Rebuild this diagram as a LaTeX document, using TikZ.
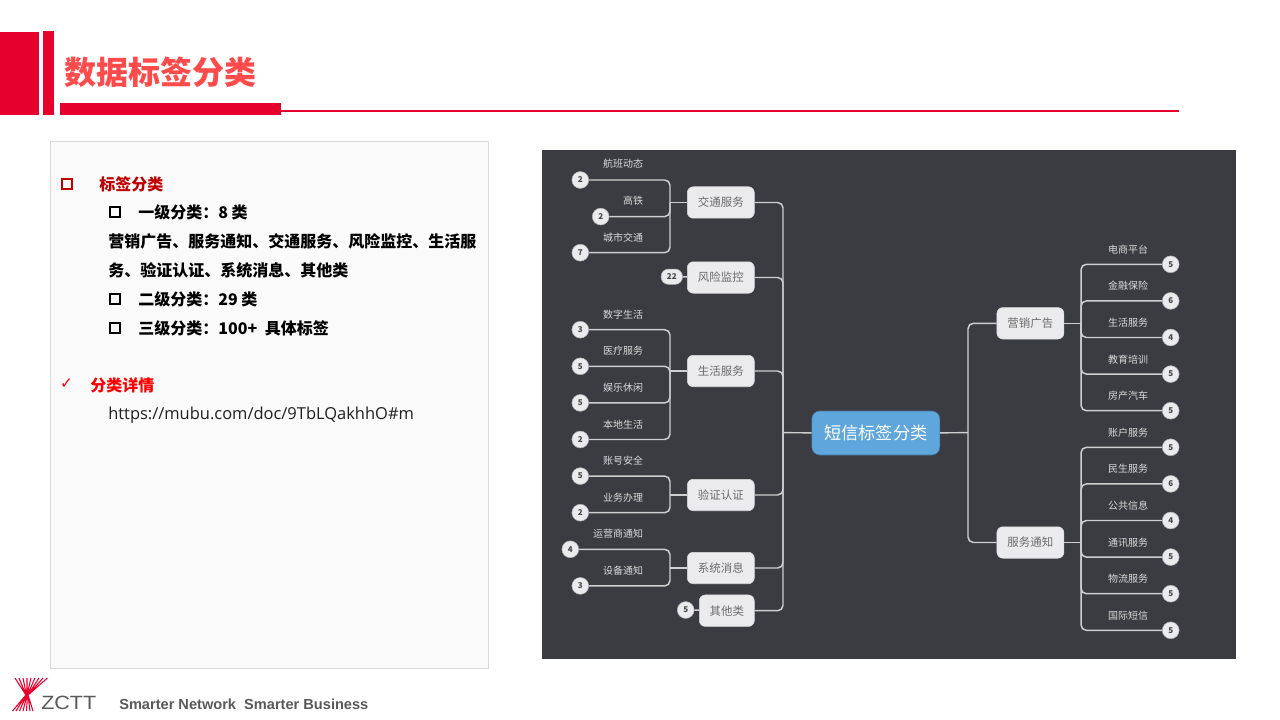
\documentclass[tikz,border=0pt]{standalone}
\usepackage{fontspec}
\setmainfont{Noto Sans CJK SC}
\newfontfamily\urlfont{Open Sans}
\newfontfamily\footfont{Liberation Sans}
\newfontfamily\checkfont{DejaVu Sans}
\usetikzlibrary{positioning, calc}
\usepackage{xcolor}
\definecolor{zcttred}{HTML}{E6002D}
\definecolor{titlered}{HTML}{FF4B4B}
\definecolor{panelgray}{HTML}{3B3C41}
\definecolor{linegray}{HTML}{CFCFD1}
\definecolor{topicgray}{HTML}{EBEBED}
\definecolor{rootblue}{HTML}{5FA6DC}

\begin{document}
\begin{tikzpicture}[
    x=0.75pt, y=-0.75pt,
    node distance=15.45pt and 6pt,
    block/.style={fill=zcttred, draw=none},
    heading/.style={anchor=west, inner sep=0pt, font=\fontsize{12pt}{14pt}\selectfont\bfseries},
    body/.style={heading, text=black},
    tick/.style={draw=black, line width=1.5pt, minimum size=7.5pt, inner sep=0pt},
    root/.style={rectangle, rounded corners=6pt, fill=rootblue, draw=rootblue!70!black, line width=0.4pt, text=white, minimum width=96pt, minimum height=33pt, inner sep=0pt, font=\fontsize{12.9pt}{15pt}\selectfont},
    topic/.style={rectangle, rounded corners=4.5pt, fill=topicgray, draw=white!85!black, line width=0.4pt, text=black!58, minimum width=50.25pt, minimum height=23.6pt, inner sep=0pt, font=\fontsize{8.6pt}{10pt}\selectfont},
    leaf/.style={inner sep=0pt, outer sep=0pt, text height=9pt, text depth=3pt, text=white!85!black, font=\fontsize{7.5pt}{9pt}\selectfont},
    leafl/.style={leaf, text width=37.5pt, align=right},
    leafr/.style={leaf, text width=30pt, align=left},
    count/.style={circle, fill=topicgray, draw=white!70!black, line width=0.4pt, text=black!72, minimum size=12.6pt, inner sep=0pt, font=\fontsize{6pt}{7pt}\selectfont\bfseries},
    link/.style={draw=linegray, line width=1.1pt, rounded corners=4pt},
    fan/.style={draw=zcttred, line width=0.8pt}
  ]
    \useasboundingbox (0,0) rectangle (1280,720);
    % header
    \fill[block] (0,32) rectangle (39,115);
    \fill[block] (43,31) rectangle (54,115);
    \fill[block] (60,103) rectangle (281,115);
    \fill[block] (281,110) rectangle (1179,112.5);
    \node[anchor=west, inner sep=0pt, text=titlered, font=\fontsize{24pt}{28pt}\selectfont\bfseries] (title) at (64,72) {数据标签分类};

    % left panel
    \draw[draw=white!85!black, fill=white!98!black, line width=0.6pt] (50,141) rectangle (488.5,668);
    \node[tick, draw=red!75!black] (b0) at (67,184) {};
    \node[heading, text=red!75!black] (t0) at (99,184) {标签分类};
    \node[tick] (b1) at (115,212) {};
    \node[body] (t1) at (138,212) {一级分类：8 类};
    \node[body] (t2) at (108,241) {营销广告、服务通知、交通服务、风险监控、生活服};
    \node[body] (t3) at (108,270) {务、验证认证、系统消息、其他类};
    \node[tick] (b2) at (115,299) {};
    \node[body] (t4) at (138,299) {二级分类：29 类};
    \node[tick] (b3) at (115,328) {};
    \node[body] (t5) at (138,328) {三级分类：100+\hspace{3pt} 具体标签};
    \node[anchor=center, inner sep=0pt, text=red, font=\checkfont\fontsize{11.5pt}{13pt}\selectfont] (b4) at (66.5,384) {✓};
    \node[heading, text=red] (t6) at (90,385) {分类详情};
    \node[body, font=\urlfont\fontsize{12.35pt}{14pt}\selectfont, text=black!88] (t7) at (108,415.5) {https://mubu.com/doc/9TbLQakhhO\#m};

    % mind map
    \fill[panelgray] (542,150) rectangle (1236,659);
    \node[root] (dxbq) at (875.8,433) {短信标签分类};
    \coordinate (lj) at (783,432.7);
    \coordinate (rj) at (968,432.7);

    \node[topic] (jtfw) at (720.8,202.5) {交通服务};
    \node[topic] (fxjk) at (720.8,277.5) {风险监控};
    \node[topic] (shfw) at (720.8,371) {生活服务};
    \node[topic] (yzrz) at (720.8,495) {验证认证};
    \node[topic] (xtxx) at (720.8,568) {系统消息};
    \node[topic, minimum width=41.25pt] (qtl) at (726.8,610.7) {其他类};
    \node[topic] (yxgg) at (1030.4,323.3) {营销广告};
    \node[topic] (fwtz) at (1030.4,542.5) {服务通知};

    \coordinate (jjt) at (670,202.5);
    \coordinate (jsh) at (670,371);
    \coordinate (jyz) at (670,495);
    \coordinate (jxt) at (670,568);
    \coordinate (jyx) at (1081,323.3);
    \coordinate (jfw) at (1081,542.5);

    % left leaves
    \node[leafl] (hbdt) at (618,164) {航班动态};
    \node[leafl, below=of hbdt] (gt) {高铁};
    \node[leafl, below=of gt] (csjt) {城市交通};
    \node[leafl, below=45.75pt of csjt] (szsh) {数字生活};
    \node[leafl, below=of szsh] (ylfw) {医疗服务};
    \node[leafl, below=of ylfw] (ylxx) {娱乐休闲};
    \node[leafl, below=of ylxx] (bdsh) {本地生活};
    \node[leafl, below=of bdsh] (zhaq) {账号安全};
    \node[leafl, below=of zhaq] (ywbl) {业务办理};
    \node[leafl, below=of ywbl] (yystz) {运营商通知};
    \node[leafl, below=of yystz] (sbtz) {设备通知};

    \node[count] (n1) at ($(hbdt)+(-37.7,16)$) {2};
    \node[count] (n2) at ($(gt)+(-17.3,16)$) {2};
    \node[count] (n3) at ($(csjt)+(-37.7,15.5)$) {7};
    \node[count, rounded corners=5.5pt, rectangle, minimum width=16pt, minimum height=11.5pt] (n4) at (671.8,276.7) {22};
    \node[count] (n5) at ($(szsh)+(-37.7,15.5)$) {3};
    \node[count] (n6) at ($(ylfw)+(-37.7,15.5)$) {5};
    \node[count] (n7) at ($(ylxx)+(-37.7,15.5)$) {5};
    \node[count] (n8) at ($(bdsh)+(-37.7,15.5)$) {2};
    \node[count] (n9) at ($(zhaq)+(-37.7,15.5)$) {5};
    \node[count] (n10) at ($(ywbl)+(-37.7,15.5)$) {2};
    \node[count] (n11) at ($(yystz)+(-47.7,15.5)$) {4};
    \node[count] (n12) at ($(sbtz)+(-37.7,15.5)$) {3};
    \node[count] (n13) at (685.7,610) {5};

    % right leaves
    \node[leafr] (dspt) at (1128,249.3) {电商平台};
    \node[leafr, below=of dspt] (jrbx) {金融保险};
    \node[leafr, below=of jrbx] (shfw2) {生活服务};
    \node[leafr, below=of shfw2] (jypx) {教育培训};
    \node[leafr, below=of jypx] (fcqc) {房产汽车};
    \node[leafr, below=of fcqc] (zhfw) {账户服务};
    \node[leafr, below=of zhfw] (msfw) {民生服务};
    \node[leafr, below=of msfw] (ggxx) {公共信息};
    \node[leafr, below=of ggxx] (txfw) {通讯服务};
    \node[leafr, below=of txfw] (wlfw) {物流服务};
    \node[leafr, below=of wlfw] (gjdx) {国际短信};

    \node[count] (m1) at ($(dspt)+(42.7,15)$) {5};
    \node[count] (m2) at ($(jrbx)+(42.7,15)$) {6};
    \node[count] (m3) at ($(shfw2)+(42.7,15)$) {4};
    \node[count] (m4) at ($(jypx)+(42.7,15)$) {5};
    \node[count] (m5) at ($(fcqc)+(42.7,15)$) {5};
    \node[count] (m6) at ($(zhfw)+(42.7,15)$) {5};
    \node[count] (m7) at ($(msfw)+(42.7,15)$) {6};
    \node[count] (m8) at ($(ggxx)+(42.7,15)$) {4};
    \node[count] (m9) at ($(txfw)+(42.7,15)$) {5};
    \node[count] (m10) at ($(wlfw)+(42.7,15)$) {5};
    \node[count] (m11) at ($(gjdx)+(42.7,15)$) {5};

    % connectors
    \draw[link] (lj) -- (dxbq);
    \draw[link] (rj) -- (dxbq);
    \draw[link] (jtfw) -| (lj);
    \draw[link] (fxjk) -| (lj);
    \draw[link] (shfw) -| (lj);
    \draw[link] (yzrz) -| (lj);
    \draw[link] (xtxx) -| (lj);
    \draw[link] (qtl) -| (lj);
    \draw[link] (yxgg) -| (rj);
    \draw[link] (fwtz) -| (rj);

    \draw[link] (jjt) -- (jtfw);
    \draw[link] (jsh) -- (shfw);
    \draw[link] (jyz) -- (yzrz);
    \draw[link] (jxt) -- (xtxx);
    \draw[link] (jyx) -- (yxgg);
    \draw[link] (jfw) -- (fwtz);
    \draw[link] (n4) -- (fxjk);
    \draw[link] (n13) -- (qtl);

    \draw[link] (n1) -| (jjt);
    \draw[link] (n2) -| (jjt);
    \draw[link] (n3) -| (jjt);
    \draw[link] (n5) -| (jsh);
    \draw[link] (n6) -| (jsh);
    \draw[link] (n7) -| (jsh);
    \draw[link] (n8) -| (jsh);
    \draw[link] (n9) -| (jyz);
    \draw[link] (n10) -| (jyz);
    \draw[link] (n11) -| (jxt);
    \draw[link] (n12) -| (jxt);
    \draw[link] (m1) -| (jyx);
    \draw[link] (m2) -| (jyx);
    \draw[link] (m3) -| (jyx);
    \draw[link] (m4) -| (jyx);
    \draw[link] (m5) -| (jyx);
    \draw[link] (m6) -| (jfw);
    \draw[link] (m7) -| (jfw);
    \draw[link] (m8) -| (jfw);
    \draw[link] (m9) -| (jfw);
    \draw[link] (m10) -| (jfw);
    \draw[link] (m11) -| (jfw);

    % footer
    \draw[fan] (15,678) -- (26,695) (19,678) -- (26,695) (23,678) -- (26.5,695) (27,678) -- (27,695)
      (31,678) -- (27,695) (35,678) -- (27.5,695) (39,678) -- (28,695) (43,678) -- (28,695) (47.5,678) -- (28,695);
    \draw[fan] (26,695) -- (12.5,711) (26,695) -- (16,711) (26.5,695) -- (19.5,711) (27,695) -- (23,711)
      (27.5,695) -- (26.5,711) (28,695) -- (30,711) (28,695) -- (33,711);
    \node[anchor=west, inner sep=0pt, text=black!65, xscale=1.12, font=\footfont\fontsize{14.4pt}{16pt}\selectfont] (zctt) at (41,703) {ZCTT};
    \node[anchor=west, inner sep=0pt, text=black!65, font=\footfont\fontsize{10.95pt}{12pt}\selectfont\bfseries] (slogan) at (119,704) {Smarter Network\ \ Smarter Business};
  \end{tikzpicture}
\end{document}
